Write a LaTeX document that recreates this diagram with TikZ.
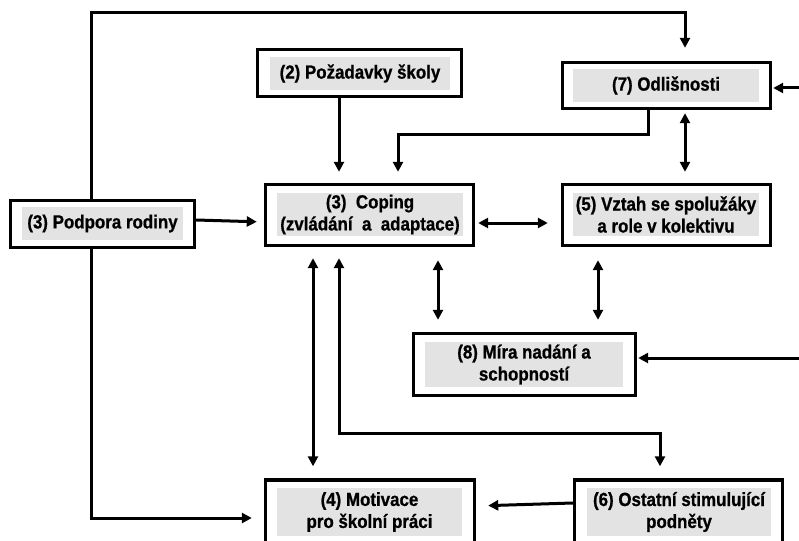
\documentclass[tikz,border=0pt]{standalone}
\usepackage{fontspec}
\setmainfont{Liberation Sans}[FakeStretch=0.89, BoldFeatures={FakeBold=0.8}]
\usetikzlibrary{arrows.meta}
\definecolor{panel}{gray}{0.89}
\tikzset{
  outerbox/.style={draw=black, line width=3.4pt, fill=white, inner sep=0pt},
  innerbox/.style={fill=panel, inner sep=0pt, align=center,
    font=\fontsize{19}{22}\selectfont\bfseries},
  link/.style={line width=3pt, -{Triangle[width=10pt,length=10pt]}},
  dlink/.style={line width=3pt, {Triangle[width=10pt,length=10pt]}-{Triangle[width=10pt,length=10pt]}},
}
\begin{document}
\begin{tikzpicture}[x=1pt,y=-1pt]
\useasboundingbox (0,0) rectangle (799,540);

% boxes: white frame with a grey text panel inside
\node[outerbox, minimum width=204pt, minimum height=47pt] (pozad) at (359.5,73) {};
\node[innerbox, minimum width=180pt, minimum height=33pt] (pozadT) at (360,73.5) {(2) Požadavky školy};

\node[outerbox, minimum width=208pt, minimum height=46pt] (odlis) at (666.5,85.5) {};
\node[innerbox, minimum width=186pt, minimum height=33pt] (odlisT) at (666,85.5) {(7) Odlišnosti};

\node[outerbox, minimum width=184pt, minimum height=47pt] (podpora) at (102.5,224) {};
\node[innerbox, minimum width=161pt, minimum height=33pt] (podporaT) at (102.5,223.5) {(3) Podpora rodiny};

\node[outerbox, minimum width=208pt, minimum height=61pt] (coping) at (369.5,215) {};
\node[innerbox, minimum width=186pt, minimum height=43pt] (copingT) at (370,214.5) {(3)\ \ Coping\\(zvládání\ \ a\ \ adaptace)};

\node[outerbox, minimum width=208pt, minimum height=61pt] (vztah) at (666.5,215) {};
\node[innerbox, minimum width=186pt, minimum height=43pt] (vztahT) at (666,214.5) {(5) Vztah se spolužáky\\a role v kolektivu};

\node[outerbox, minimum width=222pt, minimum height=62pt] (mira) at (524.5,364.5) {};
\node[innerbox, minimum width=198pt, minimum height=45pt] (miraT) at (524,364.5) {(8) Míra nadání a\\schopností};

\node[outerbox, minimum width=209pt, minimum height=66pt] (motiv) at (370,513) {};
\node[innerbox, minimum width=185pt, minimum height=48pt] (motivT) at (369.5,512) {(4) Motivace\\pro školní práci};

\node[outerbox, minimum width=208pt, minimum height=66pt] (ostat) at (678.5,513) {};
\node[innerbox, minimum width=184pt, minimum height=48pt] (ostatT) at (679,512) {(6) Ostatní stimulující\\podněty};

% bend points and free ends
\coordinate (loopR) at (685,13);
\coordinate (bendO) at (398,135);
\coordinate (bendS) at (660,433);
\coordinate (inO) at (799,88);
\coordinate (inM) at (799,358);

% connectors
\draw[link, shorten >=13pt] ([xshift=-11.5pt]podpora.north) |- (loopR) -- (loopR |- odlis.north);
\draw[link, shorten >=11pt] ([xshift=-20.5pt]pozad.south) -- ([xshift=-30.5pt]coping.north);
\draw[link, shorten >=11pt] ([xshift=-18.5pt]odlis.south) |- (bendO) -- (bendO |- coping.north);
\draw[dlink, shorten <=3pt, shorten >=11pt] ([xshift=18.5pt]odlis.south) -- ([xshift=18.5pt]vztah.north);
\draw[link, shorten >=1pt] (inO) -- (inO -| odlis.east);
\draw[link, shorten >=7pt] ([yshift=4pt]podpora.east) -- ([yshift=-7pt]coping.west);
\draw[dlink, shorten <=3pt, shorten >=13pt] ([yshift=-8pt]coping.east) -- ([yshift=-8pt]vztah.west);
\draw[dlink, shorten <=11pt, shorten >=12pt] ([xshift=-56.5pt]coping.south) -- ([xshift=-57pt]motiv.north);
\draw[dlink, shorten <=11pt, shorten >=12pt] ([xshift=-30.5pt]coping.south) |- (bendS) -- (bendS |- ostat.north);
\draw[dlink, shorten <=13pt, shorten >=12pt] ([xshift=68.5pt]coping.south) -- ([xshift=68.5pt]coping.south |- mira.north);
\draw[dlink, shorten <=13pt, shorten >=12pt] ([xshift=-68.5pt]vztah.south) -- ([xshift=-68.5pt]vztah.south |- mira.north);
\draw[link, shorten >=1pt] (inM) -- (inM -| mira.east);
\draw[link, shorten >=12pt] ([yshift=10pt]ostat.west) -- ([yshift=7pt]motiv.east);
\draw[link, shorten >=12pt] ([xshift=-11.5pt]podpora.south) |- ([yshift=-5pt]motiv.west);
\end{tikzpicture}
\end{document}
